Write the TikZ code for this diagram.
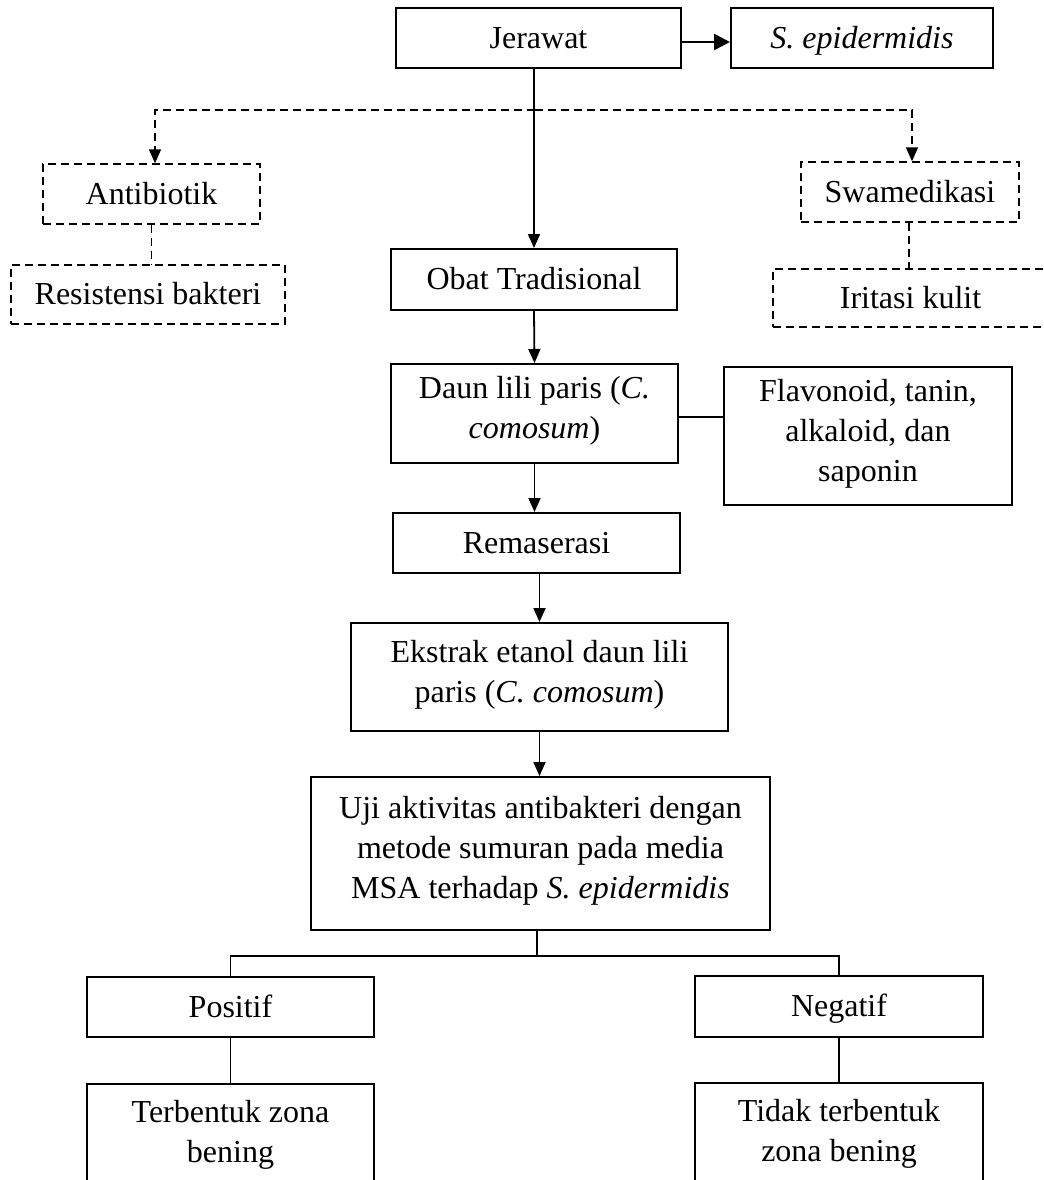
\documentclass[tikz,border=0pt]{standalone}
\usepackage{fontspec}
\setmainfont{Liberation Serif}
\usepackage{tikz}
\usetikzlibrary{arrows.meta, positioning, calc}

\begin{document}
\begin{tikzpicture}[
    x=0.5pt, y=-0.5pt,
    box/.style={rectangle, draw, line width=1pt, inner sep=0pt, align=center, font=\fontsize{16}{20}\selectfont, execute at begin node={\rule{0pt}{16pt}}, execute at end node={\rule[-6pt]{0pt}{6pt}}},
    dbox/.style={box, line width=0.7pt, dash pattern=on 4pt off 2.5pt},
    arrow/.style={-{Triangle[length=7pt, width=6pt]}, line width=0.9pt},
    darrow/.style={arrow, line width=0.8pt, dash pattern=on 4pt off 2.5pt},
    link/.style={line width=0.8pt},
    dlink/.style={line width=0.7pt, dash pattern=on 4pt off 2.5pt},
]
\useasboundingbox (0,0) rectangle (1044,1180);
\clip (0,0) rectangle (1044,1180);

\node[box, minimum width=142.5pt, minimum height=30pt] (jerawat) at (538.5,38) {Jerawat};
\node[box, minimum width=131pt, minimum height=30pt] (sepi) at (862,38) {\textit{S. epidermidis}};

\node[dbox, minimum width=108.5pt, minimum height=30pt] (antibiotik) at (151.5,194) {Antibiotik};
\node[dbox, minimum width=137pt, minimum height=29.5pt] (resistensi) at (148,294.5) {Resistensi bakteri};
\node[dbox, minimum width=109pt, minimum height=30pt] (swamedikasi) at (910,192) {Swamedikasi};
\node[dbox, minimum width=137.5pt, minimum height=29pt] (iritasi) at (910.5,298) {Iritasi kulit};

\node[box, minimum width=143pt, minimum height=30.5pt] (obat) at (534,279.5) {Obat Tradisional};
\node[box, minimum width=143.5pt, minimum height=49.5pt] (daun) at (534.5,413.5) {Daun lili paris (\textit{C.}\\\textit{comosum})};
\node[box, minimum width=144pt, minimum height=69pt] (senyawa) at (868,436) {Flavonoid, tanin,\\alkaloid, dan\\saponin};
\node[box, minimum width=143.5pt, minimum height=30pt] (remaserasi) at (536.5,543) {Remaserasi};
\node[box, minimum width=188.5pt, minimum height=54pt] (ekstrak) at (539.5,677) {Ekstrak etanol daun lili\\paris (\textit{C. comosum})};
\node[box, minimum width=229.5pt, minimum height=76.5pt] (uji) at (540.5,853.5) {Uji aktivitas antibakteri dengan\\metode sumuran pada media\\MSA terhadap \textit{S. epidermidis}};

\node[box, minimum width=143.5pt, minimum height=30pt] (positif) at (230.5,1007) {Positif};
\node[box, minimum width=144pt, minimum height=30.5pt] (negatif) at (839,1006.5) {Negatif};
\node[box, minimum width=143.5pt, minimum height=53pt] (terbentuk) at (230.5,1137) {Terbentuk zona\\bening};
\node[box, minimum width=144pt, minimum height=53.5pt] (tidak) at (839,1136.5) {Tidak terbentuk\\zona bening};

\coordinate (split) at (535,110);
\coordinate (fork) at (537,956);

\draw[-{Triangle[length=8pt, width=8pt]}, line width=1.3pt] (jerawat.east |- 0,42) -- (sepi.west |- 0,42);
\draw[arrow] (jerawat.south -| obat.north) -- (obat.north);
\draw[darrow] (split) -| (antibiotik.north -| 155,0);
\draw[darrow] (split) -| (swamedikasi.north -| 912,0);
\draw[dlink] (antibiotik.south) -- (antibiotik.south |- resistensi.north);
\draw[dlink] (swamedikasi.south -| 909,0) -- (iritasi.north -| 909,0);

\draw[arrow] (obat.south) -- (daun.north);
\draw[link] (daun.east |- 0,417) -- (senyawa.west |- 0,417);
\draw[arrow] (daun.south) -- (daun.south |- remaserasi.north);
\draw[arrow] (ekstrak.north |- remaserasi.south) -- (ekstrak.north);
\draw[arrow] (ekstrak.south) -- (ekstrak.south |- uji.north);

\draw[link] (uji.south -| fork) -- (fork);
\draw[link] (fork) -| (positif.north);
\draw[link] (fork) -| (negatif.north);
\draw[link] (positif.south) -- (terbentuk.north);
\draw[link] (negatif.south) -- (tidak.north);
\end{tikzpicture}
\end{document}
